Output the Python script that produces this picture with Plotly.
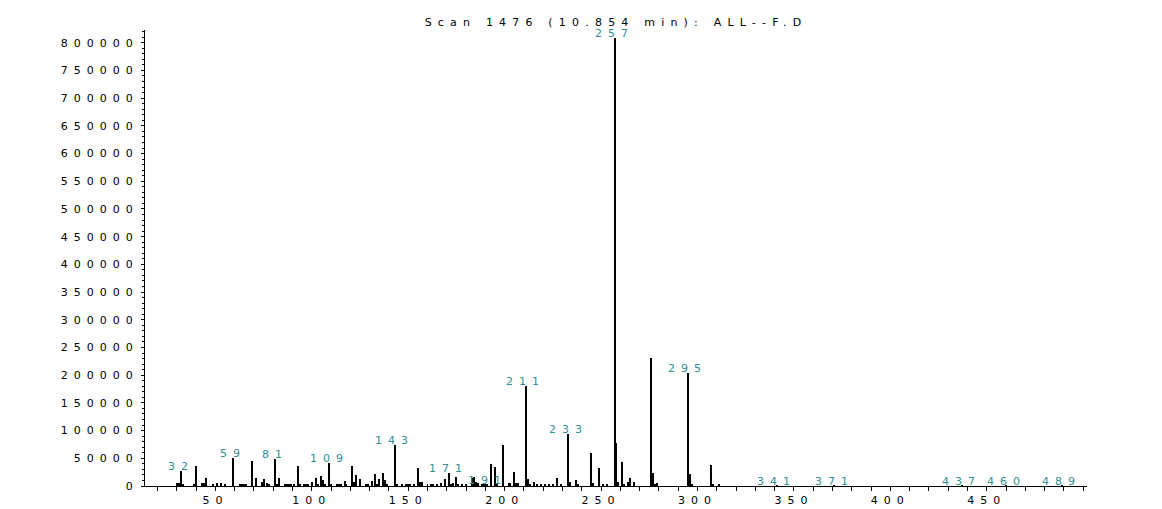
"""Mass spectrum of scan 1476 (10.854 min), drawn as a stick plot."""

import plotly.graph_objects as go

# ── Data ──────────────────────────────────────────────────────────────────

mz = [
    30, 31, 32, 33, 39, 40, 43, 44, 45, 49, 51, 53, 55, 59, 63, 64, 65, 66,
    69, 71, 74, 75, 77, 78, 81, 82, 83, 86, 87, 88, 89, 91, 93, 94, 96, 97,
    98, 100, 102, 103, 105, 106, 107, 109, 110, 113, 114, 115, 117, 118,
    121, 122, 123, 125, 128, 129, 131, 133, 134, 135, 137, 138, 139, 143,
    144, 147, 149, 150, 151, 153, 155, 156, 157, 160, 162, 163, 165, 167,
    169, 171, 172, 173, 175, 176, 178, 180, 183, 184, 185, 186, 188, 189,
    190, 191, 193, 195, 196, 199, 202, 203, 205, 206, 207, 211, 212, 213,
    215, 217, 219, 221, 223, 225, 227, 229, 233, 234, 237, 238, 245, 246,
    249, 251, 253, 257, 258, 259, 261, 262, 264, 265, 267, 276, 277, 278,
    279, 295, 296, 297, 307, 308, 311, 341, 371, 437, 460, 489,
]
abundance = [
    6000, 6000, 27000, 3000, 4000, 37000, 5000, 5000, 15000, 3000, 6000,
    6000, 4000, 51000, 3000, 3000, 3000, 4000,
    45000, 14000, 8000, 13000, 6000, 3000, 49000, 4000, 15000, 3000, 3000,
    4000, 3000, 3000, 36000, 3000, 4000, 3000,
    3000, 8000, 15000, 3000, 18000, 11000, 3000, 41000, 3000, 3000, 4000,
    3000, 9000, 3000,
    36000, 8000, 20000, 13000, 3000, 3000, 9000, 22000, 3000, 12000, 24000,
    11000, 3000, 74000,
    4000, 3000, 3000, 3000, 4000, 3000, 33000, 7000, 7000, 3000, 3000, 4000,
    3000, 5000,
    13000, 24000, 4000, 6000, 17000, 3000, 3000, 3000, 15000, 17000, 8000,
    5000, 3000, 3000,
    3000, 2500, 39000, 35000, 4000, 74000, 5000, 5000, 26000, 6000, 5000,
    180000, 12000, 3000,
    7000, 3000, 3000, 2000, 3000, 3000, 14000, 3000, 94000, 8000, 11000,
    3000, 60000, 5000,
    33000, 2000, 2000, 809000, 78000, 8000, 44000, 4000, 8000, 14000, 8000,
    231000, 24000, 2000,
    6000, 204000, 22000, 2000, 38000, 4000, 2000, 800, 800, 800, 800, 800,
]

# peaks that carry an m/z label
labelled = [32, 59, 81, 109, 143, 171, 191, 211, 233, 257, 295, 341, 371,
            437, 460, 489]

x_ticks = [50, 100, 150, 200, 250, 300, 350, 400, 450]
y_ticks = list(range(0, 800001, 50000))

TITLE = "Scan 1476 (10.854 min): ALL--F.D"
LABEL_TEAL = "#2f8f8f"
FONT = "DejaVu Sans"


def wide(text: str, spacing: float = 6) -> str:
    """The original uses a horizontally stretched font; fake it with spacing."""
    return f'<span style="letter-spacing:{spacing}px">{text}</span>'


fig = go.Figure()
fig.add_trace(
    go.Bar(
        x=mz,
        y=abundance,
        width=0.5,
        marker=dict(color="black", line=dict(width=0)),
        hovertemplate="m/z %{x}<br>%{y}<extra></extra>",
    )
)

peak_height = dict(zip(mz, abundance))
for m in labelled:
    fig.add_annotation(
        x=m,
        y=peak_height[m],
        text=wide(str(m)),
        showarrow=False,
        yanchor="bottom",
        yshift=-4,
        font=dict(family=FONT, size=11, color=LABEL_TEAL),
    )

fig.update_layout(
    width=1162,
    height=509,
    margin=dict(l=145, r=75, t=30, b=23),
    paper_bgcolor="white",
    plot_bgcolor="white",
    showlegend=False,
    bargap=0,
    font=dict(family=FONT, size=11, color="black"),
    title=dict(
        text=wide(TITLE, 6.2),
        x=(145 + 1087) / 2 / 1162,
        xanchor="center",
        y=1 - 22 / 509,
        yanchor="middle",
        font=dict(family=FONT, size=11, color="black"),
    ),
    xaxis=dict(
        range=[13.5, 502],
        automargin=False,
        showgrid=False,
        zeroline=False,
        showline=True,
        linecolor="black",
        linewidth=1,
        ticks="outside",
        ticklen=4,
        tickcolor="black",
        tickvals=x_ticks,
        ticktext=[wide(str(v)) for v in x_ticks],
        minor=dict(dtick=10, tick0=0, ticks="outside", ticklen=4,
                   tickcolor="black", showgrid=False),
    ),
    yaxis=dict(
        range=[0, 823000],
        automargin=False,
        showgrid=False,
        zeroline=False,
        showline=True,
        linecolor="black",
        linewidth=1,
        ticks="outside",
        ticklen=3,
        tickcolor="black",
        tickvals=y_ticks,
        ticktext=[wide(str(v)) for v in y_ticks],
        minor=dict(dtick=10000, tick0=0, ticks="outside", ticklen=2,
                   tickcolor="black", showgrid=False),
    ),
)

# the page's default 8px body margin would push the figure off its spot
fig.write_html(
    "out.html",
    config={"displayModeBar": False},
    post_script="document.body.style.margin = '0';",
)
